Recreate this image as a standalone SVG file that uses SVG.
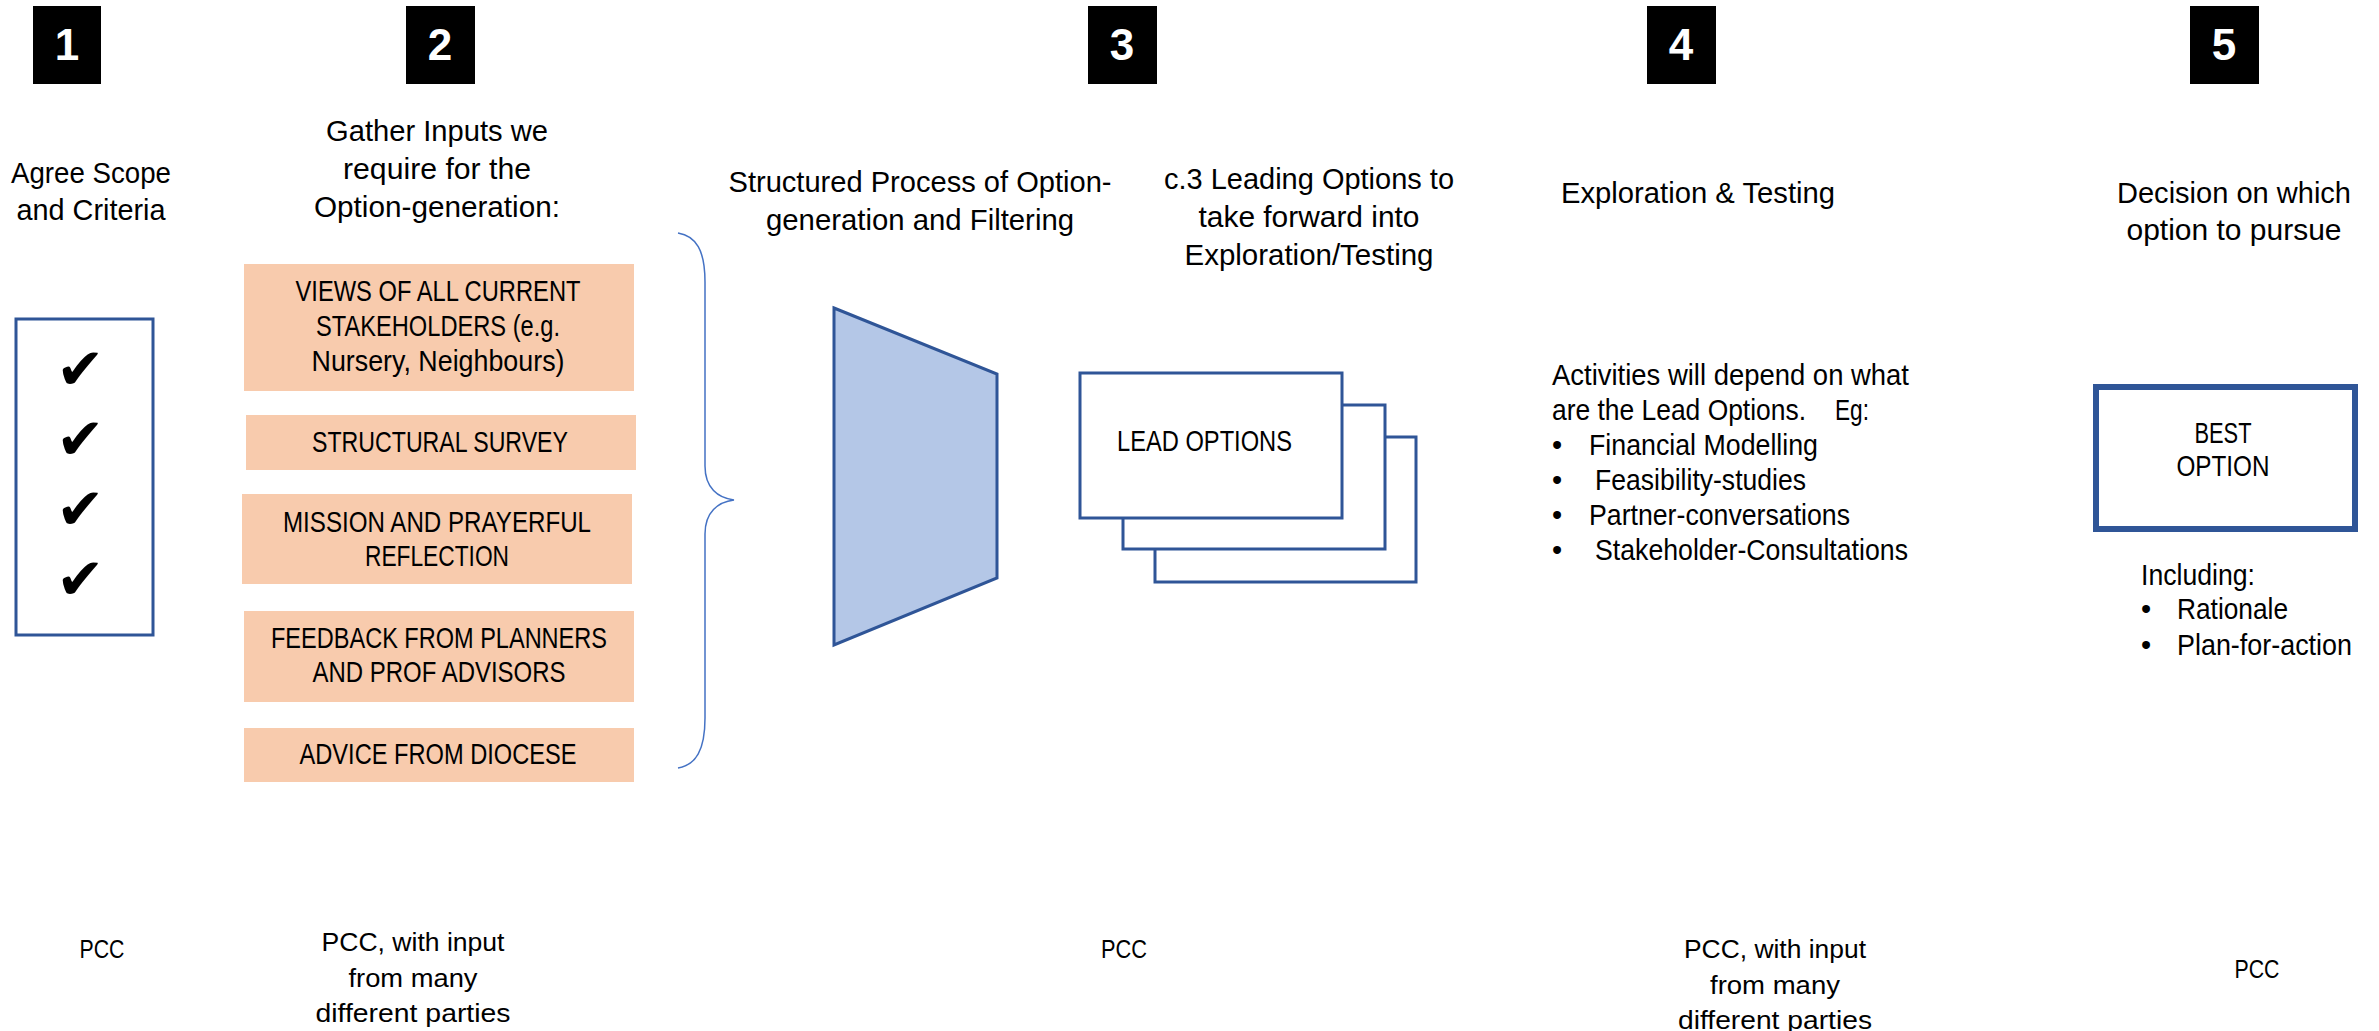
<svg xmlns="http://www.w3.org/2000/svg" width="2379" height="1031" viewBox="0 0 2379 1031">
<style>
.t{font-family:"Liberation Sans",Arial,sans-serif;font-size:29px;fill:#000}
.m{text-anchor:middle}
.b{font-family:"Liberation Sans",Arial,sans-serif;font-size:26px;fill:#000;text-anchor:middle}
.num{fill:#000}
.numt{font-family:"Liberation Sans",Arial,sans-serif;font-size:44px;font-weight:bold;fill:#fff;text-anchor:middle}
.inp{fill:#F8CBAD}
.blue{fill:#fff;stroke:#2F5597;stroke-width:3}
.chk{font-family:"DejaVu Sans",sans-serif;font-size:58px;fill:#000}
</style>
<rect width="2379" height="1031" fill="#fff"/>

<g id="step1">
<rect class="num" x="33" y="6" width="68" height="78"/>
<text class="numt" x="67" y="60">1</text>
<text class="t m" x="91" y="183" textLength="160" lengthAdjust="spacingAndGlyphs">Agree Scope</text>
<text class="t m" x="91" y="220" textLength="149" lengthAdjust="spacingAndGlyphs">and Criteria</text>
<rect x="16" y="319" width="137" height="316" fill="#fff" stroke="#2F5597" stroke-width="3"/>
<text class="chk" x="56" y="389">✔</text>
<text class="chk" x="56" y="459">✔</text>
<text class="chk" x="56" y="529">✔</text>
<text class="chk" x="56" y="599">✔</text>
<text class="b" x="102" y="958" textLength="45" lengthAdjust="spacingAndGlyphs">PCC</text>
</g>

<g id="step2">
<rect class="num" x="406" y="6" width="69" height="78"/>
<text class="numt" x="440" y="60">2</text>
<text class="t m" x="437" y="141" textLength="222" lengthAdjust="spacingAndGlyphs">Gather Inputs we</text>
<text class="t m" x="437" y="179" textLength="188" lengthAdjust="spacingAndGlyphs">require for the</text>
<text class="t m" x="437" y="217" textLength="246" lengthAdjust="spacingAndGlyphs">Option-generation:</text>
<text class="b" x="413" y="951" textLength="183" lengthAdjust="spacingAndGlyphs">PCC, with input</text>
<text class="b" x="413" y="987" textLength="129" lengthAdjust="spacingAndGlyphs">from many</text>
<text class="b" x="413" y="1022" textLength="195" lengthAdjust="spacingAndGlyphs">different parties</text>
</g>

<g id="input-views">
<rect class="inp" x="244" y="264" width="390" height="127"/>
<text class="t m" x="438" y="301" textLength="285" lengthAdjust="spacingAndGlyphs">VIEWS OF ALL CURRENT</text>
<text class="t m" x="438" y="336" textLength="244" lengthAdjust="spacingAndGlyphs">STAKEHOLDERS (e.g.</text>
<text class="t m" x="438" y="371" textLength="253" lengthAdjust="spacingAndGlyphs">Nursery, Neighbours)</text>
</g>
<g id="input-survey">
<rect class="inp" x="246" y="415" width="390" height="55"/>
<text class="t m" x="440" y="452" textLength="256" lengthAdjust="spacingAndGlyphs">STRUCTURAL SURVEY</text>
</g>
<g id="input-mission">
<rect class="inp" x="242" y="494" width="390" height="90"/>
<text class="t m" x="437" y="532" textLength="308" lengthAdjust="spacingAndGlyphs">MISSION AND PRAYERFUL</text>
<text class="t m" x="437" y="566" textLength="144" lengthAdjust="spacingAndGlyphs">REFLECTION</text>
</g>
<g id="input-feedback">
<rect class="inp" x="244" y="611" width="390" height="91"/>
<text class="t m" x="439" y="648" textLength="336" lengthAdjust="spacingAndGlyphs">FEEDBACK FROM PLANNERS</text>
<text class="t m" x="439" y="682" textLength="253" lengthAdjust="spacingAndGlyphs">AND PROF ADVISORS</text>
</g>
<g id="input-diocese">
<rect class="inp" x="244" y="728" width="390" height="54"/>
<text class="t m" x="438" y="764" textLength="277" lengthAdjust="spacingAndGlyphs">ADVICE FROM DIOCESE</text>
</g>

<g id="connectors">
<path d="M678,233 C696,236 705,250 705,282 L705,466 C705,488 718,498 734,500 C718,502 705,512 705,534 L705,718 C705,750 696,765 678,768" fill="none" stroke="#4472C4" stroke-width="1.5"/>
</g>

<g id="step3">
<rect class="num" x="1088" y="6" width="69" height="78"/>
<text class="numt" x="1122" y="60">3</text>
<text class="t m" x="920" y="192" textLength="383" lengthAdjust="spacingAndGlyphs">Structured Process of Option-</text>
<text class="t m" x="920" y="230" textLength="308" lengthAdjust="spacingAndGlyphs">generation and Filtering</text>
<path d="M834,308 L997,374 L997,578 L834,645 Z" fill="#B4C7E7" stroke="#2F5597" stroke-width="3" stroke-linejoin="miter"/>
<text class="b" x="1124" y="958" textLength="46" lengthAdjust="spacingAndGlyphs">PCC</text>
</g>

<g id="lead-options">
<text class="t m" x="1309" y="189" textLength="290" lengthAdjust="spacingAndGlyphs">c.3 Leading Options to</text>
<text class="t m" x="1309" y="227" textLength="221" lengthAdjust="spacingAndGlyphs">take forward into</text>
<text class="t m" x="1309" y="265" textLength="249" lengthAdjust="spacingAndGlyphs">Exploration/Testing</text>
<rect class="blue" x="1155" y="437" width="261" height="145"/>
<rect class="blue" x="1123" y="405" width="262" height="144"/>
<rect class="blue" x="1080" y="373" width="262" height="145"/>
<text class="t" x="1117" y="451" textLength="175" lengthAdjust="spacingAndGlyphs">LEAD OPTIONS</text>
</g>

<g id="step4">
<rect class="num" x="1647" y="6" width="69" height="78"/>
<text class="numt" x="1681" y="60">4</text>
<text class="t" x="1561" y="203" textLength="274" lengthAdjust="spacingAndGlyphs">Exploration &amp; Testing</text>
<text class="t" x="1552" y="385" textLength="357" lengthAdjust="spacingAndGlyphs">Activities will depend on what</text>
<text class="t" x="1552" y="420" textLength="254" lengthAdjust="spacingAndGlyphs">are the Lead Options.</text>
<text class="t" x="1835" y="420" textLength="34" lengthAdjust="spacingAndGlyphs">Eg:</text>
<text class="t" x="1552" y="455">•</text>
<text class="t" x="1589" y="455" textLength="229" lengthAdjust="spacingAndGlyphs">Financial Modelling</text>
<text class="t" x="1552" y="490">•</text>
<text class="t" x="1595" y="490" textLength="211" lengthAdjust="spacingAndGlyphs">Feasibility-studies</text>
<text class="t" x="1552" y="525">•</text>
<text class="t" x="1589" y="525" textLength="261" lengthAdjust="spacingAndGlyphs">Partner-conversations</text>
<text class="t" x="1552" y="560">•</text>
<text class="t" x="1595" y="560" textLength="313" lengthAdjust="spacingAndGlyphs">Stakeholder-Consultations</text>
<text class="b" x="1775" y="958" textLength="182" lengthAdjust="spacingAndGlyphs">PCC, with input</text>
<text class="b" x="1775" y="994" textLength="130" lengthAdjust="spacingAndGlyphs">from many</text>
<text class="b" x="1775" y="1029" textLength="194" lengthAdjust="spacingAndGlyphs">different parties</text>
</g>

<g id="step5">
<rect class="num" x="2190" y="6" width="69" height="78"/>
<text class="numt" x="2224" y="60">5</text>
<text class="t m" x="2234" y="203" textLength="234" lengthAdjust="spacingAndGlyphs">Decision on which</text>
<text class="t m" x="2234" y="240" textLength="215" lengthAdjust="spacingAndGlyphs">option to pursue</text>
<rect x="2096" y="387" width="259" height="142" fill="#fff" stroke="#2F5597" stroke-width="6"/>
<text class="t m" x="2223" y="443" textLength="57" lengthAdjust="spacingAndGlyphs">BEST</text>
<text class="t m" x="2223" y="476" textLength="93" lengthAdjust="spacingAndGlyphs">OPTION</text>
<text class="t" x="2141" y="585" textLength="114" lengthAdjust="spacingAndGlyphs">Including:</text>
<text class="t" x="2141" y="619">•</text>
<text class="t" x="2177" y="619" textLength="111" lengthAdjust="spacingAndGlyphs">Rationale</text>
<text class="t" x="2141" y="655">•</text>
<text class="t" x="2177" y="655" textLength="175" lengthAdjust="spacingAndGlyphs">Plan-for-action</text>
<text class="b" x="2257" y="978" textLength="45" lengthAdjust="spacingAndGlyphs">PCC</text>
</g>
</svg>
